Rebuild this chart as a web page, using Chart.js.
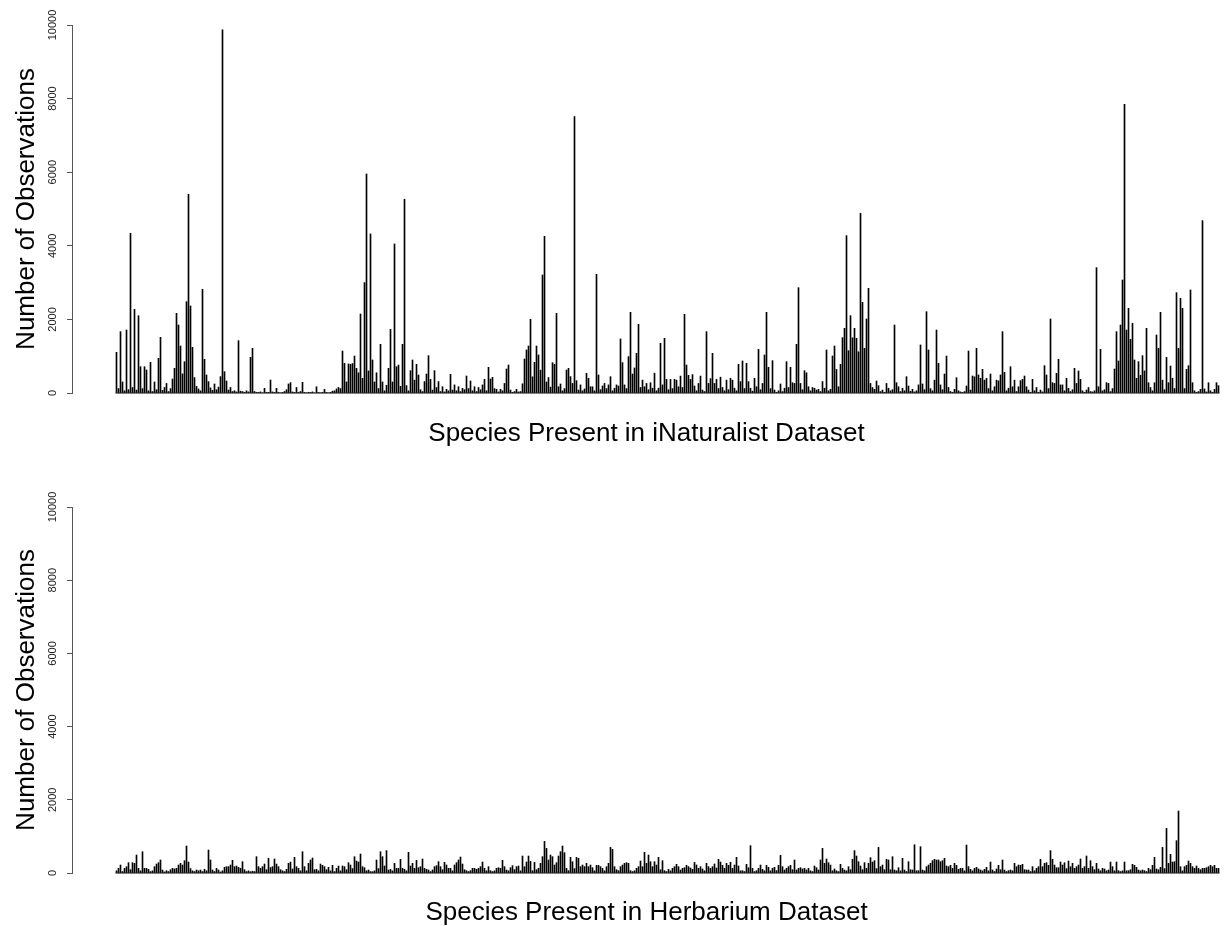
<!DOCTYPE html>
<html lang="en">
<head>
  <meta charset="UTF-8">
  <title>Species observations</title>
  <script src="https://cdn.jsdelivr.net/npm/chart.js@4"></script>
  <style>
    body { margin: 0; background: #fff; }
    canvas { display: block; }
  </style>
</head>
<body>
  <canvas id="inatChart" width="1226" height="455"></canvas>
  <canvas id="herbChart" width="1226" height="471"></canvas>

  <script>
    // observations per species, in plot order
    const inatCounts = [
      1105,120,1667,300,60,1712,90,4340,150,2274,80,2100,715,120,715,625,60,833,40,300,
      90,942,1513,70,150,260,40,120,380,670,2165,1848,1277,520,850,2482,5400,2365,1241,420,
      180,110,60,2818,915,490,310,140,70,245,90,160,445,9866,580,326,80,150,40,60,
      30,1422,50,40,20,60,30,970,1214,40,20,10,30,0,127,20,10,353,30,10,
      127,20,0,10,40,90,245,281,30,10,150,20,40,290,10,0,20,10,30,0,
      170,10,0,20,100,10,0,20,50,60,110,150,120,1141,806,300,790,780,800,1005,
      670,550,2147,400,3000,5952,600,4322,897,300,550,120,1323,300,60,210,670,1730,300,4050,
      715,760,180,1323,5264,200,60,607,897,350,779,490,90,40,310,516,1015,370,80,607,
      150,310,40,170,30,100,60,507,80,220,60,170,40,127,90,462,120,326,60,170,
      40,150,90,220,371,60,698,380,426,120,100,30,100,60,260,652,761,80,20,40,
      100,30,40,250,924,1169,1277,2002,440,833,1277,1033,620,3207,4258,300,420,160,824,779,
      2165,170,245,60,120,625,670,445,260,7511,335,80,220,60,110,535,400,170,170,60,
      3225,490,90,190,260,120,220,444,60,130,220,190,1468,824,220,120,988,2192,516,680,
      1078,1866,150,350,170,260,90,280,130,540,60,130,1350,220,1486,370,90,370,120,370,
      350,170,460,150,2138,760,480,370,500,190,60,260,460,80,40,1667,260,390,1078,260,
      370,120,430,150,60,350,90,400,350,130,60,779,310,870,120,806,310,130,50,400,
      170,1187,90,260,1033,2192,698,120,879,80,20,60,245,40,130,851,150,698,280,260,
      1323,2863,260,90,607,550,170,60,150,130,80,100,40,310,130,1169,60,100,1005,1277,
      640,170,780,1504,1758,4276,1150,2102,1500,1758,1486,1120,4883,2464,1214,2011,2845,260,150,100,
      326,200,40,80,20,260,130,60,90,1848,280,170,40,130,60,444,190,50,100,30,
      60,220,1305,245,90,2210,1169,120,60,350,1712,806,220,90,516,1005,150,40,20,100,
      417,60,30,10,40,190,1141,80,462,440,1214,490,400,643,350,400,120,516,60,170,
      350,330,490,1667,562,60,130,715,170,350,40,170,335,371,462,170,80,20,371,60,
      150,20,80,30,743,490,120,2011,280,260,535,915,220,220,60,400,130,40,90,670,
      260,598,370,60,20,80,150,40,30,60,3406,170,1187,60,90,280,260,40,120,652,
      1667,870,1848,3071,7846,1712,2301,1459,1893,897,400,851,480,1015,600,1758,280,150,60,280,
      1576,1214,2192,350,90,970,280,734,400,120,2727,1214,2573,2301,120,643,743,2800,280,60,
      20,40,100,4684,110,30,280,60,20,100,280,200
    ];

    const herbCounts = [
      60,127,218,40,127,173,282,90,282,264,491,127,60,582,127,127,100,40,60,173,
      245,282,355,82,30,64,40,90,127,110,127,218,264,218,337,737,300,120,60,40,
      82,60,82,40,100,60,628,355,82,40,127,82,30,60,155,173,173,218,346,173,
      191,155,127,309,90,40,60,36,50,40,446,173,127,173,245,90,400,150,173,382,
      245,173,90,60,40,100,264,300,110,428,173,127,60,582,173,60,264,355,410,90,
      100,60,245,210,173,90,155,60,210,40,127,191,60,191,173,90,282,218,120,446,
      328,300,519,173,145,60,82,40,36,60,355,120,582,446,191,610,82,100,60,264,
      127,127,373,127,100,60,564,191,264,127,346,145,173,382,127,100,82,40,82,173,
      200,309,173,90,291,218,127,127,60,218,282,355,437,245,90,64,40,64,127,127,
      100,127,173,300,127,60,173,64,40,60,127,145,127,346,173,82,60,145,200,90,
      173,191,60,464,173,300,464,318,64,290,90,127,264,446,864,673,355,491,446,218,
      282,464,582,737,555,127,64,428,309,120,428,400,173,218,173,264,173,218,145,60,
      210,210,173,127,60,173,264,700,646,173,90,64,173,218,264,282,264,64,40,60,
      127,173,328,173,564,264,491,309,173,309,218,428,90,337,64,40,100,60,127,173,
      237,173,82,127,145,210,173,137,100,290,218,127,173,110,60,264,173,127,173,246,
      137,373,300,210,127,264,210,291,127,218,428,191,60,64,40,237,145,746,127,40,
      64,127,218,100,60,210,155,60,127,155,64,210,482,173,82,127,173,210,90,355,
      82,127,145,110,127,82,127,60,40,191,145,82,355,673,264,382,282,218,60,110,
      60,40,237,127,82,60,173,90,373,610,464,309,191,90,282,127,264,419,300,337,
      120,700,173,218,90,373,355,90,446,82,60,145,60,400,82,40,309,90,82,773,
      60,64,719,82,60,173,218,264,337,373,355,355,309,337,400,191,173,210,127,264,
      210,100,127,127,60,764,173,100,60,127,155,110,82,60,100,155,60,300,82,40,
      110,210,90,355,82,40,64,82,60,264,173,218,210,237,90,82,82,40,173,60,
      127,173,373,173,264,282,210,610,373,218,145,145,300,218,282,120,328,173,264,127,
      173,218,382,127,173,464,127,337,173,90,264,110,60,127,110,60,82,300,173,60,
      300,64,40,60,300,60,64,90,237,210,155,82,60,82,64,40,127,90,210,428,
      110,90,155,700,120,1219,264,510,300,309,883,1693,173,60,173,210,328,264,173,127,
      191,127,90,127,127,145,173,210,173,210,127,127
    ];

    const yTickValues = [0, 2000, 4000, 6000, 8000, 10000];
    const yTitle = 'Number of Observations';
    const xTitles = ['Species Present in iNaturalist Dataset', 'Species Present in Herbarium Dataset'];

    const fontFamily = '"Liberation Sans", Arial, Helvetica, sans-serif';

    function makeChart(id, counts, xTitle, pad) {
      const points = counts.map((v, i) => ({ x: i, y: v }));
      // bar bottoms run together into one line, as in barplot
      const baseline = [{ x: -0.5, y: 0 }, { x: counts.length - 0.5, y: 0 }];

      return new Chart(document.getElementById(id), {
        type: 'bar',
        data: {
          datasets: [{
            data: points,
            backgroundColor: '#000',
            barThickness: 1,
            borderWidth: 0
          }, {
            type: 'line',
            data: baseline,
            borderColor: '#000',
            borderWidth: 1,
            pointRadius: 0,
            clip: false
          }]
        },
        options: {
          responsive: false,
          animation: false,
          devicePixelRatio: 1,
          layout: { padding: { left: 0, right: 5, top: pad.top, bottom: pad.bottom } },
          plugins: { legend: { display: false }, tooltip: { enabled: false } },
          scales: {
            x: {
              type: 'linear',
              offset: false,
              min: -22.25,
              max: counts.length + 0.25,
              grid: { display: false, drawTicks: false },
              border: { display: false },
              ticks: { display: false },
              title: {
                display: true,
                text: xTitle,
                color: '#000',
                font: { family: fontFamily, size: 26, lineHeight: 1 },
                padding: { top: pad.titleTop, bottom: pad.titleBottom }
              }
            },
            y: {
              min: 0,
              max: 10000,
              afterBuildTicks: s => { s.ticks = yTickValues.map(v => ({ value: v })); },
              afterFit: s => { s.width = 72; },
              border: { display: true, color: '#555', width: 1 },
              grid: { drawOnChartArea: false, drawTicks: true, tickLength: 5, color: '#555' },
              ticks: {
                minRotation: 90,
                maxRotation: 90,
                crossAlign: 'center',
                padding: -1,
                color: '#222',
                font: { family: fontFamily, size: 11 },
                callback: v => String(v)
              },
              title: {
                display: true,
                text: yTitle,
                color: '#000',
                font: { family: fontFamily, size: 26, lineHeight: 1 },
                padding: { top: 14, bottom: 0 }
              }
            }
          }
        }
      });
    }

    makeChart('inatChart', inatCounts, xTitles[0], { top: 25, bottom: 8, titleTop: 28, titleBottom: 0 });
    makeChart('herbChart', herbCounts, xTitles[1], { top: 52, bottom: 0, titleTop: 27, titleBottom: 0 });
  </script>
</body>
</html>
